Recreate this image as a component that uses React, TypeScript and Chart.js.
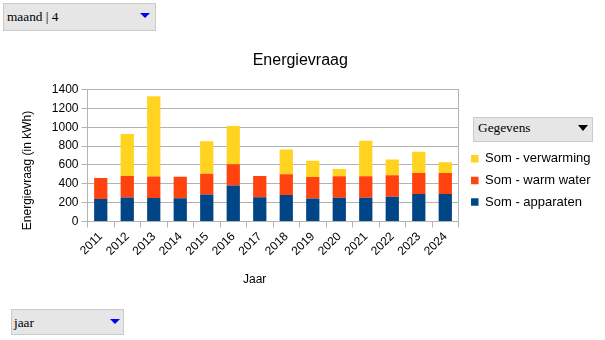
import React, { useEffect, useRef } from 'react';
import { Chart, registerables } from 'chart.js';

Chart.register(...registerables);

// ---- data ----
const years = ['2011', '2012', '2013', '2014', '2015', '2016', '2017', '2018', '2019', '2020', '2021', '2022', '2023', '2024'];
const apparaten = [238, 255, 250, 247, 287, 383, 256, 281, 245, 252, 252, 263, 291, 291];
const warmWater = [223, 227, 228, 228, 220, 223, 227, 220, 227, 228, 228, 227, 224, 224];
const verwarming = [0, 447, 851, 0, 343, 408, 0, 263, 171, 78, 376, 167, 224, 114];
const seriesLabels = ['Som - apparaten', 'Som - warm water', 'Som - verwarming'];
const yMin = 0;
const yMax = 1400;
const yStep = 200;
const chartTitle = 'Energievraag';
const yTitle = 'Energievraag (in kWh)';
const xTitle = 'Jaar';

const SANS = '"Liberation Sans", Arial, sans-serif';
const SERIF = '"Liberation Serif", "Times New Roman", serif';
const GRID = '#b3b3b3';

function Dropdown(props: {
  x: number; y: number; w: number; h: number; text: string;
  tx: number; ty: number; triX: number; triY: number; triW: number; triH: number; triColor: string;
}) {
  const { x, y, w, h, text, tx, ty, triX, triY, triW, triH, triColor } = props;
  return (
    <>
      <div style={{ position: 'absolute', left: x, top: y, width: w, height: h, boxSizing: 'border-box', background: '#e6e6e6', border: '1px solid #cacaca' }} />
      <div style={{ position: 'absolute', left: tx, top: ty, fontFamily: SERIF, fontSize: 13.33, lineHeight: '15px', color: '#000', whiteSpace: 'pre' }}>{text}</div>
      <div style={{ position: 'absolute', left: triX, top: triY, width: 0, height: 0, borderLeft: `${triW / 2}px solid transparent`, borderRight: `${triW / 2}px solid transparent`, borderTop: `${triH}px solid ${triColor}` }} />
    </>
  );
}

export default function App() {
  const ref = useRef<HTMLCanvasElement>(null);

  useEffect(() => {
    if (!ref.current) return;
    const chart = new Chart(ref.current, {
      type: 'bar',
      data: {
        labels: years,
        datasets: [
          { label: seriesLabels[0], data: apparaten, backgroundColor: '#004586', borderWidth: 0 },
          { label: seriesLabels[1], data: warmWater, backgroundColor: '#ff420e', borderWidth: 0 },
          { label: seriesLabels[2], data: verwarming, backgroundColor: '#ffd320', borderWidth: 0 },
        ],
      },
      options: {
        responsive: false,
        animation: false,
        devicePixelRatio: 1,
        layout: { padding: { left: 0, right: 4.5, top: 0, bottom: 50 } },
        datasets: { bar: { barPercentage: 0.5, categoryPercentage: 1 } },
        plugins: {
          title: {
            display: true,
            text: chartTitle,
            color: '#000',
            font: { family: SANS, size: 16, weight: 'normal' },
            padding: { top: 51.4, bottom: 18.9 },
          },
          legend: {
            position: 'right',
            align: 'start',
            reverse: true,
            fullSize: true,
            maxWidth: 200,
            title: { display: true, text: '', font: { family: SANS, size: 12 }, padding: { top: 0, bottom: 129.3 } },
            labels: {
              boxWidth: 7.5,
              boxHeight: 7.5,
              padding: 8.6,
              color: '#000',
              font: { family: SANS, size: 13 },
            },
          },
          tooltip: { enabled: false },
        },
        scales: {
          x: {
            stacked: true,
            offset: true,
            grid: { offset: true, drawOnChartArea: false, drawTicks: true, tickLength: 6, color: GRID },
            border: { display: true, color: GRID },
            ticks: { minRotation: 45, maxRotation: 45, autoSkip: false, color: '#000', padding: 2, font: { family: SANS, size: 12 } },
            title: {
              display: true,
              text: xTitle + '           ',
              color: '#000',
              font: { family: SANS, size: 12 },
              padding: { top: 0, bottom: 3.3 },
            },
            afterFit: (s: any) => { s.height = 68.5; },
          },
          y: {
            stacked: true,
            min: yMin,
            max: yMax,
            grid: { color: GRID, tickLength: 6, drawTicks: true },
            border: { display: true, color: GRID },
            ticks: { stepSize: yStep, color: '#000', padding: 3, font: { family: SANS, size: 12 }, callback: (v: any) => String(v) },
            title: {
              display: true,
              text: yTitle + '         ',
              color: '#000',
              font: { family: SANS, size: 12 },
              padding: { top: 20.8, bottom: 0 },
            },
            afterFit: (s: any) => { s.width = 87.5; },
          },
          y2: {
            position: 'right',
            min: yMin,
            max: yMax,
            grid: { display: false },
            border: { display: true, color: GRID },
            ticks: { display: false },
            afterFit: (s: any) => { s.width = 3.9; },
          },
        },
      },
    } as any);
    return () => chart.destroy();
  }, []);

  return (
    <div style={{ position: 'absolute', left: 0, top: 0, width: 605, height: 340, background: '#fff', overflow: 'hidden' }}>
      <canvas ref={ref} width={605} height={340} style={{ position: 'absolute', left: 0, top: 0, width: 605, height: 340 }} />
      <Dropdown x={3} y={3} w={153} h={28} text="maand | 4" tx={7} ty={9} triX={140} triY={13} triW={11.5} triH={5.5} triColor="#0000ff" />
      <Dropdown x={473} y={116.5} w={120} h={25} text="Gegevens" tx={478} ty={120} triX={578} triY={125} triW={10.5} triH={6} triColor="#000" />
      <Dropdown x={11} y={309} w={113} h={26} text="jaar" tx={14} ty={315} triX={110} triY={319} triW={10} triH={5} triColor="#0000ff" />
    </div>
  );
}
